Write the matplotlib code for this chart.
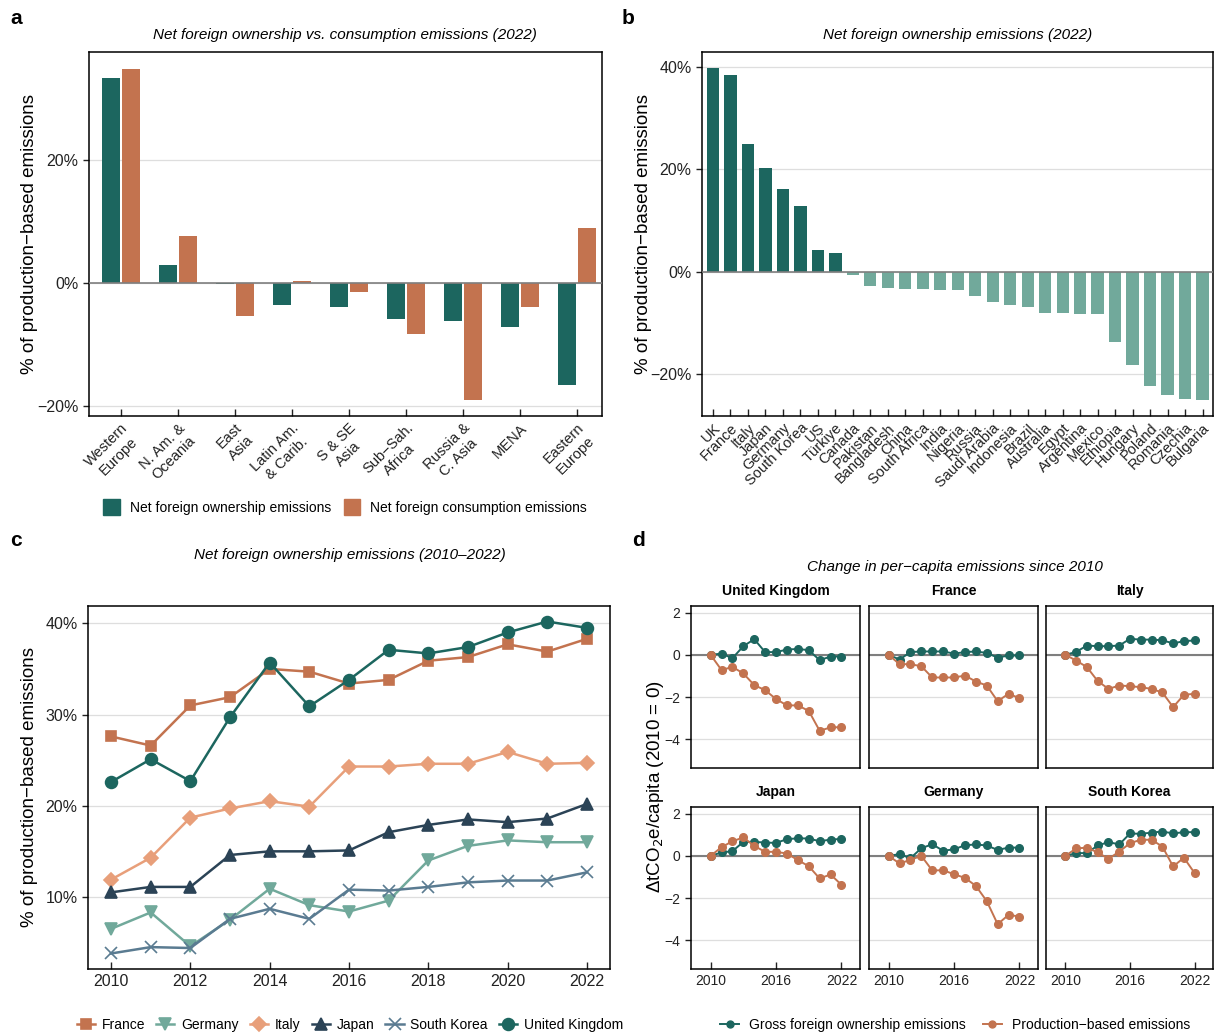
import numpy as np
import matplotlib
matplotlib.use("Agg")
import matplotlib.pyplot as plt
from matplotlib.patches import Patch
from matplotlib.lines import Line2D
from matplotlib.ticker import FuncFormatter

plt.rcParams['font.family'] = ['Liberation Sans', 'DejaVu Sans']
plt.rcParams['axes.unicode_minus'] = True

# --- data -------------------------------------------------------------
regions = ["Western\nEurope", "N. Am. &\nOceania", "East\nAsia", "Latin Am.\n& Carib.",
           "S & SE\nAsia", "Sub\u2212Sah.\nAfrica", "Russia &\nC. Asia", "MENA", "Eastern\nEurope"]
region_ownership = [33.3, 3.0, -0.2, -3.6, -3.9, -5.9, -6.1, -7.2, -16.6]
region_consumption = [34.8, 7.7, -5.4, 0.4, -1.5, -8.3, -19.0, -3.9, 9.0]

countries = ["UK", "France", "Italy", "Japan", "Germany", "South Korea", "US", "Türkiye",
             "Canada", "Pakistan", "Bangladesh", "China", "South Africa", "India", "Nigeria",
             "Russia", "Saudi Arabia", "Indonesia", "Brazil", "Australia", "Egypt", "Argentina",
             "Mexico", "Ethiopia", "Hungary", "Poland", "Romania", "Czechia", "Bulgaria"]
country_ownership = [39.7, 38.5, 24.9, 20.2, 16.1, 12.8, 4.2, 3.6, -0.6, -2.8, -3.1, -3.4,
                     -3.4, -3.6, -3.6, -4.7, -5.9, -6.5, -6.9, -8.1, -8.1, -8.2, -8.2, -13.7,
                     -18.2, -22.3, -24.0, -24.8, -25.0]

years = list(range(2010, 2023))
ts_france = [27.6, 26.6, 31.0, 31.9, 35.0, 34.7, 33.4, 33.8, 35.9, 36.3, 37.7, 36.9, 38.3]
ts_germany = [6.5, 8.3, 4.6, 7.5, 10.9, 9.1, 8.4, 9.6, 14.0, 15.6, 16.2, 16.0, 16.0]
ts_italy = [11.9, 14.3, 18.7, 19.7, 20.5, 19.9, 24.3, 24.3, 24.6, 24.6, 25.9, 24.6, 24.7]
ts_japan = [10.5, 11.1, 11.1, 14.6, 15.0, 15.0, 15.1, 17.1, 17.9, 18.5, 18.2, 18.6, 20.2]
ts_korea = [3.8, 4.5, 4.4, 7.6, 8.7, 7.6, 10.8, 10.7, 11.1, 11.6, 11.8, 11.8, 12.7]
ts_uk = [22.6, 25.1, 22.7, 29.7, 35.7, 30.9, 33.8, 37.1, 36.7, 37.4, 39.0, 40.2, 39.5]

facet_names = ["United Kingdom", "France", "Italy", "Japan", "Germany", "South Korea"]
gross_uk = [0, 0.06, -0.16, 0.41, 0.74, 0.13, 0.13, 0.25, 0.28, 0.22, -0.25, -0.08, -0.08]
prod_uk = [0, -0.72, -0.57, -0.88, -1.43, -1.67, -2.09, -2.39, -2.39, -2.65, -3.59, -3.43, -3.42]
gross_fr = [0, -0.22, 0.13, 0.16, 0.16, 0.16, 0.06, 0.13, 0.16, 0.09, -0.13, -0.03, -0.03]
prod_fr = [0, -0.44, -0.44, -0.54, -1.07, -1.07, -1.07, -0.98, -1.26, -1.45, -2.19, -1.84, -2.05]
gross_it = [0, 0.14, 0.44, 0.41, 0.41, 0.44, 0.76, 0.72, 0.72, 0.69, 0.54, 0.65, 0.68]
prod_it = [0, -0.27, -0.58, -1.24, -1.61, -1.45, -1.48, -1.53, -1.61, -1.78, -2.47, -1.89, -1.84]
gross_jp = [0, 0.16, 0.22, 0.66, 0.66, 0.63, 0.61, 0.79, 0.83, 0.82, 0.69, 0.77, 0.80]
prod_jp = [0, 0.41, 0.69, 0.87, 0.47, 0.19, 0.19, 0.11, -0.20, -0.49, -1.07, -0.88, -1.37]
gross_de = [0, 0.08, -0.11, 0.36, 0.55, 0.24, 0.31, 0.50, 0.54, 0.49, 0.28, 0.39, 0.39]
prod_de = [0, -0.36, -0.19, 0.0, -0.69, -0.68, -0.87, -1.04, -1.42, -2.14, -3.23, -2.79, -2.87]
gross_kr = [0, 0.13, 0.13, 0.49, 0.65, 0.54, 1.06, 1.04, 1.10, 1.15, 1.06, 1.12, 1.12]
prod_kr = [0, 0.35, 0.39, 0.16, -0.14, 0.20, 0.60, 0.76, 0.76, 0.44, -0.50, -0.09, -0.82]

# --- style ------------------------------------------------------------
TEAL = "#1C665F"
ORANGE = "#C3734F"
LTEAL = "#71A99B"
SALMON = "#E89F7A"
NAVY = "#2B4356"
SLATE = "#5A7B91"
GRID = "#DEDEDE"
ZERO = "#7F7F7F"

W, H = 1214, 1034
fig = plt.figure(figsize=(W / 100, H / 100), dpi=100)


def px_axes(l, t, r, b):
    return fig.add_axes([l / W, 1 - b / H, (r - l) / W, (b - t) / H])


def pct(v, pos):
    return f"{v:.0f}%".replace("-", "\u2212")


def style(ax, size=11):
    for s in ax.spines.values():
        s.set_linewidth(1.1)
        s.set_color("black")
    ax.tick_params(axis="x", direction="in", length=5, width=1, labelsize=size, colors="#222222")
    ax.tick_params(axis="y", direction="out", length=4, width=1, labelsize=size, colors="#222222")
    ax.set_axisbelow(True)
    ax.grid(axis="y", color=GRID, lw=0.9)


# --- panel a ----------------------------------------------------------
ax = px_axes(89, 52, 602, 416)
x = np.arange(len(regions))
ax.bar(x - 0.175, region_ownership, width=0.31, color=TEAL, zorder=2)
ax.bar(x + 0.175, region_consumption, width=0.31, color=ORANGE, zorder=2)
ax.axhline(0, color=ZERO, lw=1.2, zorder=3)
ax.set_xlim(-0.56, 8.44)
ax.set_ylim(-21.6, 37.6)
ax.set_yticks([-20, 0, 20])
ax.yaxis.set_major_formatter(FuncFormatter(pct))
style(ax, 11.5)
ax.set_xticks(x)
ax.set_xticklabels(regions, rotation=45, ha="right", rotation_mode="anchor", ma="center", fontsize=10.5)
fig.text(345 / W, 1 - 35 / H, "Net foreign ownership vs. consumption emissions (2022)",
         ha="center", va="center", style="italic", fontsize=11)
fig.text(30 / W, 1 - 234 / H, "% of production\u2212based emissions", rotation=90,
         ha="center", va="center", fontsize=13.5)
fig.legend(handles=[Patch(color=TEAL, label="Net foreign ownership emissions"),
                    Patch(color=ORANGE, label="Net foreign consumption emissions")],
           loc="center", bbox_to_anchor=(345 / W, 1 - 507 / H), ncol=2, frameon=False,
           fontsize=10, handlelength=1.2, handleheight=1.3, columnspacing=0.9, handletextpad=0.7)

# --- panel b ----------------------------------------------------------
ax = px_axes(702, 52, 1213, 416)
xb = np.arange(len(countries))
cols = [TEAL if v > 0 else LTEAL for v in country_ownership]
ax.bar(xb, country_ownership, width=0.7, color=cols, zorder=2)
ax.axhline(0, color=ZERO, lw=1.2, zorder=3)
ax.set_xlim(-0.63, 28.6)
ax.set_ylim(-28.1, 42.9)
ax.set_yticks([-20, 0, 20, 40])
ax.yaxis.set_major_formatter(FuncFormatter(pct))
style(ax, 11.5)
ax.set_xticks(xb)
ax.set_xticklabels(countries, rotation=45, ha="right", rotation_mode="anchor", fontsize=10.5)
fig.text(958 / W, 1 - 35 / H, "Net foreign ownership emissions (2022)",
         ha="center", va="center", style="italic", fontsize=11)
fig.text(644 / W, 1 - 234 / H, "% of production\u2212based emissions", rotation=90,
         ha="center", va="center", fontsize=13.5)

# --- panel c ----------------------------------------------------------
ax = px_axes(88, 606, 610, 969)
series = [("France", ts_france, ORANGE, "s"), ("Germany", ts_germany, LTEAL, "v"),
          ("Italy", ts_italy, SALMON, "D"), ("Japan", ts_japan, NAVY, "^"),
          ("South Korea", ts_korea, SLATE, "x"), ("United Kingdom", ts_uk, TEAL, "o")]
handles = []
for name, vals, c, m in series:
    ms = 7 if m in ("s", "D") else 8.5
    if m == "x":
        ms = 8
    ax.plot(years, vals, color=c, marker=m, ms=ms, lw=1.8, mew=1.2, label=name)
    handles.append(Line2D([], [], color=c, marker=m, ms=ms, lw=1.8, mew=1.2, label=name))
ax.set_xlim(2009.42, 2022.58)
ax.set_ylim(2.1, 41.9)
ax.set_yticks([10, 20, 30, 40])
ax.set_xticks(range(2010, 2023, 2))
ax.yaxis.set_major_formatter(FuncFormatter(pct))
style(ax, 11.5)
fig.text(350 / W, 1 - 555 / H, "Net foreign ownership emissions (2010\u20132022)",
         ha="center", va="center", style="italic", fontsize=11)
fig.text(30 / W, 1 - 787 / H, "% of production\u2212based emissions", rotation=90,
         ha="center", va="center", fontsize=13.5)
fig.legend(handles=handles, loc="center", bbox_to_anchor=(350 / W, 1 - 1025 / H), ncol=6,
           frameon=False, fontsize=10, handlelength=1.3, columnspacing=0.8, handletextpad=0.5)

# --- panel d ----------------------------------------------------------
facet_data = [(gross_uk, prod_uk), (gross_fr, prod_fr), (gross_it, prod_it),
              (gross_jp, prod_jp), (gross_de, prod_de), (gross_kr, prod_kr)]
lefts = [691, 869, 1046]
rights = [860, 1038, 1213]
tops = [606, 807]
bots = [768, 969]
for i, (name, (g, p)) in enumerate(zip(facet_names, facet_data)):
    r, c = divmod(i, 3)
    ax = px_axes(lefts[c], tops[r], rights[c], bots[r])
    ax.axhline(0, color=ZERO, lw=1.5, zorder=1)
    ax.plot(years, g, color=TEAL, marker="o", ms=5.5, lw=1.4, zorder=2)
    ax.plot(years, p, color=ORANGE, marker="o", ms=5.5, lw=1.4, zorder=3)
    ax.set_xlim(2008.2, 2023.7)
    ax.set_ylim(-5.35, 2.31)
    ax.set_yticks([-4, -2, 0, 2])
    ax.set_xticks([2010, 2016, 2022])
    ax.yaxis.set_major_formatter(FuncFormatter(lambda v, pos: f"{v:.0f}".replace("-", "\u2212")))
    style(ax, 10)
    if r == 0:
        ax.tick_params(axis="x", labelbottom=False, length=0)
    if c > 0:
        ax.tick_params(axis="y", labelleft=False, length=0)
    fig.text((lefts[c] + rights[c]) / 2 / W, 1 - (tops[r] - 15) / H, name,
             ha="center", va="center", fontweight="bold", fontsize=10)
fig.text(955 / W, 1 - 567 / H, "Change in per\u2212capita emissions since 2010",
         ha="center", va="center", style="italic", fontsize=11)
fig.text(655 / W, 1 - 787 / H, "\u0394tCO$_2$e/capita (2010 = 0)", rotation=90,
         ha="center", va="center", fontsize=13.5)
fig.legend(handles=[Line2D([], [], color=TEAL, marker="o", ms=5, lw=1.4,
                           label="Gross foreign ownership emissions"),
                    Line2D([], [], color=ORANGE, marker="o", ms=5, lw=1.4,
                           label="Production\u2212based emissions")],
           loc="center", bbox_to_anchor=(955 / W, 1 - 1025 / H), ncol=2, frameon=False,
           fontsize=10, handlelength=1.4, columnspacing=1.2, handletextpad=0.7)

# panel letters
for letter, (lx, ly) in zip("abcd", [(10, 18), (622, 18), (10, 540), (632, 540)]):
    fig.text(lx / W, 1 - ly / H, letter, fontweight="bold", fontsize=15, ha="left", va="center")

plt.savefig("out.png", dpi=100)
